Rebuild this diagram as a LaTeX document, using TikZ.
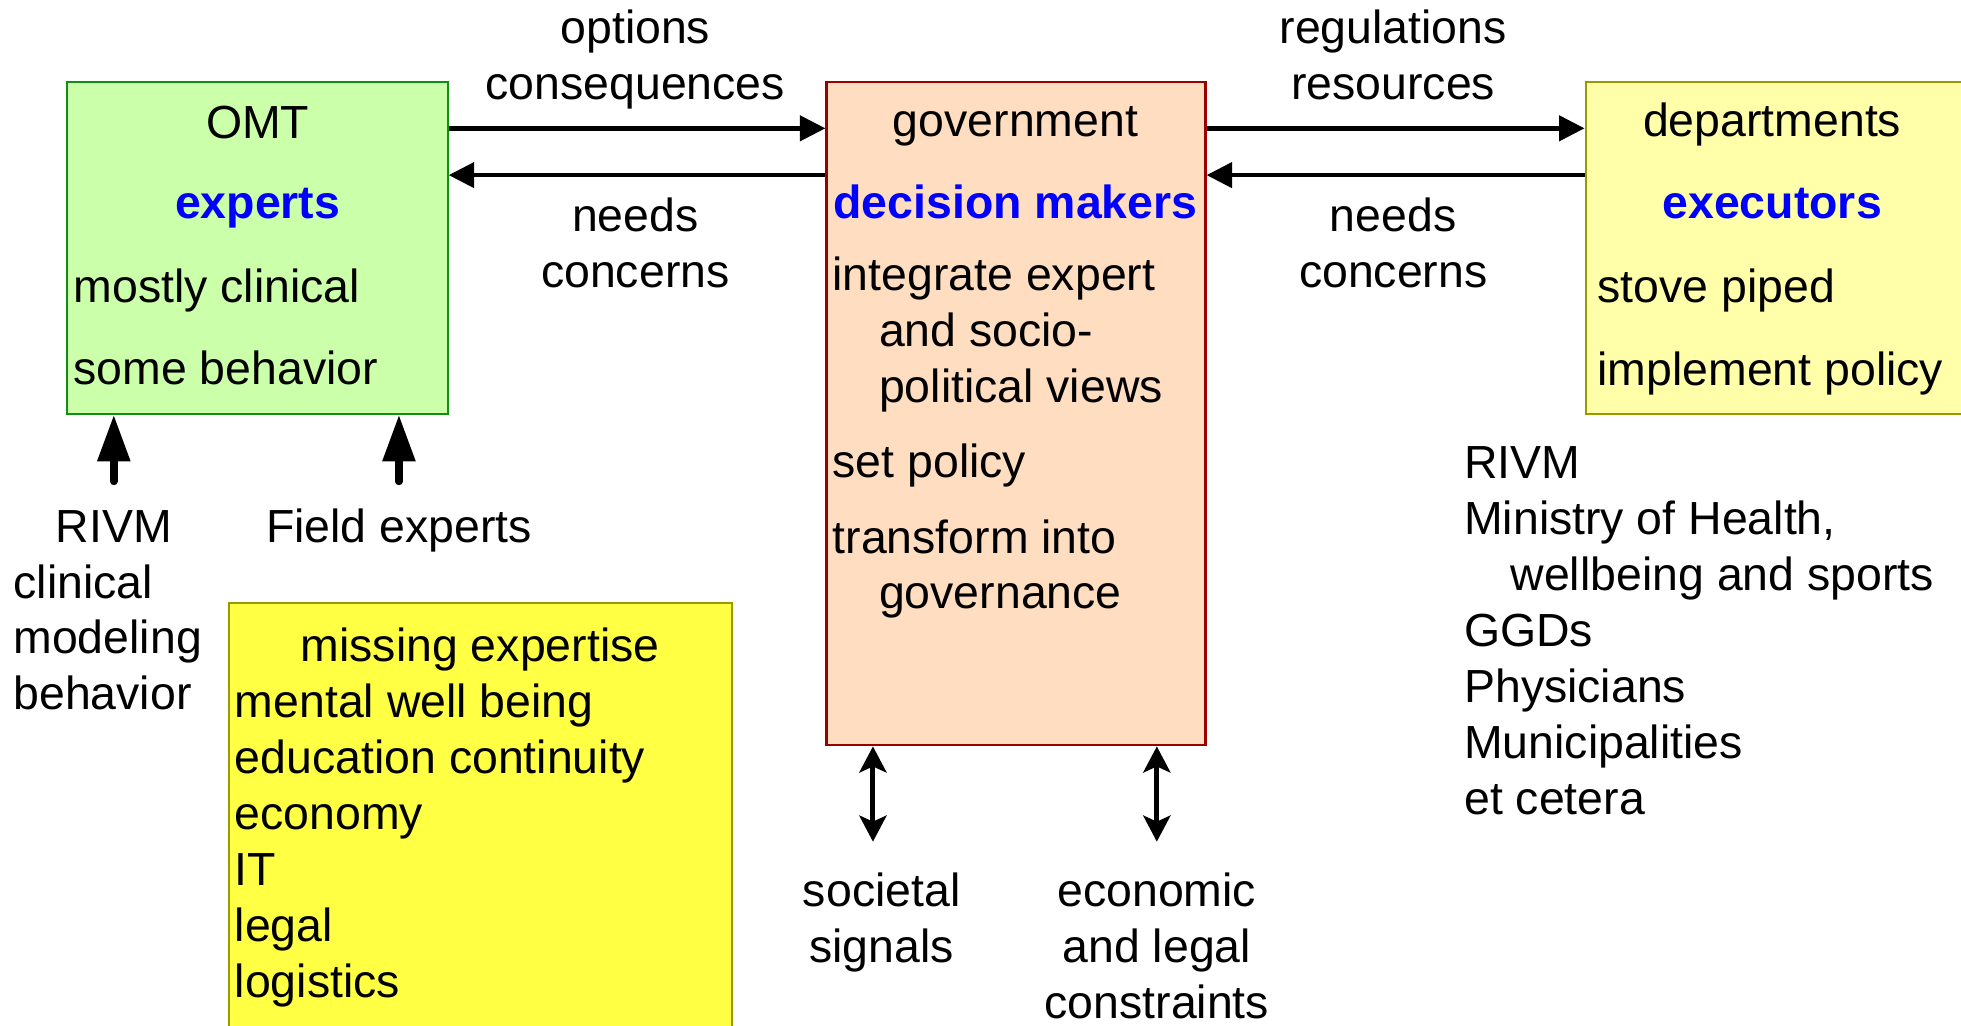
\documentclass[tikz,border=0pt]{standalone}
\usepackage{fontspec}
\setmainfont{Liberation Sans}
\usetikzlibrary{arrows.meta}

\definecolor{omtfill}{HTML}{CCFFAA}
\definecolor{omtline}{HTML}{109010}
\definecolor{govfill}{HTML}{FFDDC0}
\definecolor{govline}{HTML}{990000}
\definecolor{depfill}{HTML}{FFFFAA}
\definecolor{depline}{HTML}{999900}
\definecolor{missfill}{HTML}{FFFF44}

\begin{document}
\begin{tikzpicture}[x=0.025cm,y=-0.025cm,
  every node/.style={font=\fontsize{26.4}{31.8}\selectfont},
  box/.style={draw,line width=1.2pt,inner sep=0pt,anchor=north west},
  txt/.style={inner sep=0pt},
  role/.style={inner sep=0pt,text=blue,font=\fontsize{26.4}{31.8}\selectfont\bfseries},
  flow/.style={line width=2.5pt,-{Triangle[length=0.51cm,width=0.5cm]}},
  feed/.style={line width=4.2pt,line cap=round,-{Triangle[length=0.93cm,width=0.63cm]}},
  both/.style={line width=2.8pt,{Stealth[length=0.52cm,width=0.54cm,inset=0.12cm]}-{Stealth[length=0.52cm,width=0.54cm,inset=0.12cm]}}]
  \useasboundingbox (0,0) rectangle (1568,820);

  \node[box,fill=omtfill,draw=omtline,minimum width=7.6cm,minimum height=6.625cm] (omt) at (53,65) {};
  \node[box,fill=govfill,draw=govline,minimum width=7.575cm,minimum height=13.25cm] (gov) at (660,65) {};
  \node[box,fill=depfill,draw=depline,minimum width=8cm,minimum height=6.625cm] (dep) at (1267,65) {};
  \node[box,fill=missfill,draw=depline,minimum width=10.05cm,minimum height=9.5cm] (miss) at (182,481) {};

  \node[txt,anchor=base] (omtname) at (206,111) {OMT};
  \node[role,anchor=base] (omtrole) at (206,174.5) {experts};
  \node[txt,anchor=base west] (omta) at (58.5,241.5) {mostly clinical};
  \node[txt,anchor=base west] (omtb) at (58.5,307.5) {some behavior};

  \node[txt,anchor=base] (govname) at (812,109.5) {government};
  \node[role,anchor=base] (govrole) at (812,174.5) {decision makers};
  \node[txt,align=left,anchor=north west] (gova) at (665.5,205) {integrate expert\\\hspace{1em}and socio-\\\hspace{1em}political views};
  \node[txt,anchor=base west] (govb) at (665.5,381.5) {set policy};
  \node[txt,align=left,anchor=north west] (govc) at (665.5,415) {transform into\\\hspace{1em}governance};

  \node[txt,anchor=base] (depname) at (1417,109.5) {departments};
  \node[role,anchor=base] (deprole) at (1417,174.5) {executors};
  \node[txt,anchor=base west] (depa) at (1277,241.5) {stove piped};
  \node[txt,anchor=base west] (depb) at (1277,308.5) {implement policy};

  \node[txt,align=center,anchor=north] (fwd1) at (508,8) {options\\consequences};
  \node[txt,align=center,anchor=north] (back1) at (508,158) {needs\\concerns};
  \node[txt,align=center,anchor=north] (fwd2) at (1114,8) {regulations\\resources};
  \node[txt,align=center,anchor=north] (back2) at (1114,158) {needs\\concerns};

  \node[txt,anchor=base] (rivm) at (91,434) {RIVM};
  \node[txt,anchor=base] (field) at (319,433.5) {Field experts};
  \node[txt,align=left,anchor=north west] (rivmareas) at (10.5,451) {clinical\\modeling\\behavior};
  \node[txt,align=left,anchor=north west] (gaps) at (187.5,502) {\hspace{1.42em}missing expertise\\mental well being\\education continuity\\economy\\IT\\legal\\logistics};

  \node[txt,align=center,anchor=north] (signals) at (705,698) {societal\\signals};
  \node[txt,align=center,anchor=north] (limits) at (925,698) {economic\\and legal\\constraints};
  \node[txt,align=left,anchor=north west] (agencies) at (1170.5,357) {RIVM\\Ministry of Health,\\\hspace{1em}wellbeing and sports\\GGDs\\Physicians\\Municipalities\\et cetera};

  \coordinate (f1) at (91,385);
  \coordinate (f2) at (319,385);
  \coordinate (s1) at (698,673);
  \coordinate (s2) at (925,673);

  \draw[flow] ([yshift=-0.94cm]omt.north east) -- ([yshift=-0.94cm]gov.north west);
  \draw[flow] ([yshift=-1.875cm]gov.north west) -- ([yshift=-1.875cm]omt.north east);
  \draw[flow] ([yshift=-0.94cm]gov.north east) -- ([yshift=-0.94cm]dep.north west);
  \draw[flow] ([yshift=-1.875cm]dep.north west) -- ([yshift=-1.875cm]gov.north east);
  \draw[feed] (f1) -- (f1 |- omt.south);
  \draw[feed] (f2) -- (f2 |- omt.south);
  \draw[both] (s1 |- gov.south) -- (s1);
  \draw[both] (s2 |- gov.south) -- (s2);
\end{tikzpicture}
\end{document}
